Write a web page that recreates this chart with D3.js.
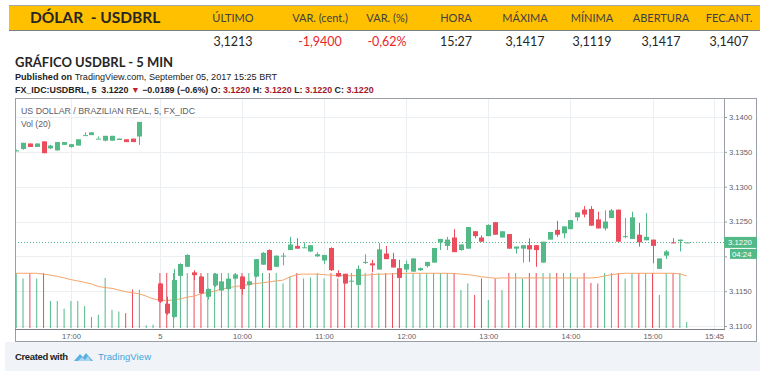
<!DOCTYPE html>
<html>
<head>
<meta charset="utf-8">
<script src="https://cdnjs.cloudflare.com/ajax/libs/d3/7.8.5/d3.min.js"></script>
<style>
  html, body { margin: 0; padding: 0; background: #fff; }
  svg { display: block; }
  .hdr { font-family: Lato, "Noto Sans", sans-serif; }
  .tv { font-family: "Liberation Sans", Arial, sans-serif; }
</style>
</head>
<body>
<script>
const width = 765;
const height = 371;

// quote table
const quoteHeads = ["ÚLTIMO", "VAR. (cent.)", "VAR. (%)", "HORA", "MÁXIMA", "MÍNIMA", "ABERTURA", "FEC.ANT."];
const quoteValues = ["3,1213", "-1,9400", "-0,62%", "15:27", "3,1417", "3,1119", "3,1417", "3,1407"];
const quoteNegative = [false, true, true, false, false, false, false, false];

// 5 min bars: previous session 16:20-18:00, then Sept 5 from 09:00
function sessionSlots(from, to) {
    const out = [];
    for (let m = from; m <= to; m += 5) {
        out.push(String(Math.floor(m / 60)).padStart(2, "0") + ":" + String(m % 60).padStart(2, "0"));
    }
    return out;
}
const slots = sessionSlots(16 * 60 + 20, 18 * 60).map(t => "d4 " + t)
    .concat(sessionSlots(9 * 60, 15 * 60 + 45).map(t => "d5 " + t));

const timeTicks = ["d4 17:00", "d5 09:00", "d5 10:00", "d5 11:00", "d5 12:00", "d5 13:00", "d5 14:00", "d5 15:00", "d5 15:45"];
const timeTickLabels = ["17:00", "5", "10:00", "11:00", "12:00", "13:00", "14:00", "15:00", "15:45"];

const priceTicks = [3.11, 3.115, 3.12, 3.125, 3.13, 3.135, 3.14];

const opens = [
    3.1352, 3.1354, 3.1362, 3.1357, 3.1365, 3.1355, 3.1352, 3.1360, 3.1357, 3.1359,
    3.1374, 3.1374, 3.1369, 3.1366, 3.1366, 3.1367, 3.1368, 3.1369, 3.1372, null,
    null, 3.1161, 3.1132, 3.1113, 3.1172, 3.1185, 3.1177, 3.1171, 3.1142, 3.1158,
    3.1151, 3.1153, 3.1168, 3.1171, 3.1159, 3.1171, 3.1188, 3.1209, 3.1185, 3.1200,
    3.1209, 3.1215, 3.1212, 3.1207, 3.1200, 3.1194, 3.1212, 3.1176, 3.1175, 3.1165,
    3.1159, 3.1192, 3.1190, 3.1181, 3.1204, 3.1196, 3.1183, 3.1181, 3.1178, 3.1180,
    3.1186, 3.1191, 3.1220, 3.1215, 3.1227, 3.1209, 3.1211, 3.1236, 3.1227, 3.1229,
    3.1249, 3.1227, 3.1232, 3.1211, 3.1211, 3.1216, 3.1216, 3.1191, 3.1224, 3.1238,
    3.1233, 3.1239, 3.1256, 3.1267, 3.1268, 3.1253, 3.1240, 3.1255, 3.1267, 3.1228,
    3.1225, 3.1231, 3.1223, 3.1224, 3.1182, 3.1201, 3.1220, 3.1222, 3.1220
];
const highs = [
    3.1353, 3.1363, 3.1362, 3.1362, 3.1365, 3.1360, 3.1364, 3.1364, 3.1361, 3.1368,
    3.1378, 3.1378, 3.1372, 3.1373, 3.1373, 3.1369, 3.1368, 3.1369, 3.1393, null,
    null, 3.1162, 3.1142, 3.1182, 3.1190, 3.1203, 3.1180, 3.1172, 3.1154, 3.1176,
    3.1165, 3.1169, 3.1176, 3.1172, 3.1165, 3.1196, 3.1206, 3.1210, 3.1201, 3.1205,
    3.1228, 3.1226, 3.1220, 3.1216, 3.1206, 3.1202, 3.1213, 3.1180, 3.1175, 3.1167,
    3.1187, 3.1203, 3.1195, 3.1219, 3.1215, 3.1205, 3.1195, 3.1194, 3.1197, 3.1184,
    3.1192, 3.1212, 3.1225, 3.1228, 3.1239, 3.1217, 3.1242, 3.1236, 3.1230, 3.1246,
    3.1249, 3.1236, 3.1232, 3.1214, 3.1216, 3.1226, 3.1216, 3.1221, 3.1235, 3.1251,
    3.1243, 3.1252, 3.1263, 3.1272, 3.1272, 3.1264, 3.1266, 3.1268, 3.1267, 3.1255,
    3.1264, 3.1248, 3.1262, 3.1224, 3.1197, 3.1209, 3.1226, 3.1224, 3.1220
];
const lows = [
    3.1351, 3.1353, 3.1357, 3.1357, 3.1348, 3.1354, 3.1352, 3.1360, 3.1356, 3.1359,
    3.1374, 3.1374, 3.1369, 3.1365, 3.1366, 3.1367, 3.1364, 3.1364, 3.1360, null,
    null, 3.1133, 3.1116, 3.1112, 3.1170, 3.1185, 3.1166, 3.1146, 3.1138, 3.1156,
    3.1149, 3.1152, 3.1167, 3.1145, 3.1158, 3.1170, 3.1188, 3.1180, 3.1185, 3.1187,
    3.1209, 3.1211, 3.1212, 3.1206, 3.1199, 3.1189, 3.1179, 3.1170, 3.1161, 3.1163,
    3.1159, 3.1189, 3.1177, 3.1181, 3.1196, 3.1184, 3.1169, 3.1177, 3.1178, 3.1179,
    3.1184, 3.1191, 3.1209, 3.1209, 3.1206, 3.1208, 3.1211, 3.1226, 3.1221, 3.1229,
    3.1231, 3.1227, 3.1211, 3.1204, 3.1191, 3.1192, 3.1185, 3.1191, 3.1224, 3.1228,
    3.1226, 3.1239, 3.1251, 3.1256, 3.1244, 3.1240, 3.1237, 3.1255, 3.1221, 3.1226,
    3.1225, 3.1214, 3.1223, 3.1190, 3.1182, 3.1196, 3.1219, 3.1207, 3.1220
];
const closes = [
    3.1352, 3.1363, 3.1357, 3.1362, 3.1348, 3.1359, 3.1364, 3.1364, 3.1361, 3.1368,
    3.1374, 3.1378, 3.1369, 3.1373, 3.1373, 3.1369, 3.1364, 3.1364, 3.1393, null,
    null, 3.1135, 3.1118, 3.1166, 3.1189, 3.1202, 3.1173, 3.1147, 3.1153, 3.1175,
    3.1164, 3.1168, 3.1174, 3.1153, 3.1164, 3.1196, 3.1205, 3.1180, 3.1201, 3.1201,
    3.1217, 3.1211, 3.1213, 3.1216, 3.1203, 3.1202, 3.1180, 3.1171, 3.1161, 3.1165,
    3.1182, 3.1192, 3.1187, 3.1210, 3.1196, 3.1184, 3.1169, 3.1189, 3.1197, 3.1183,
    3.1192, 3.1212, 3.1225, 3.1224, 3.1206, 3.1217, 3.1242, 3.1229, 3.1221, 3.1245,
    3.1231, 3.1236, 3.1211, 3.1214, 3.1216, 3.1210, 3.1209, 3.1221, 3.1235, 3.1231,
    3.1243, 3.1252, 3.1263, 3.1260, 3.1244, 3.1240, 3.1250, 3.1266, 3.1221, 3.1229,
    3.1256, 3.1220, 3.1228, 3.1215, 3.1197, 3.1207, 3.1219, 3.1224, 3.1220
];
// volume, relative to the tallest bar
const volumes = [
    100, 90, 100, 90, 100, 49, 49, 35, 49, 49,
    40, 20, 24, 91, 33, 30, 27, 70, 70, 5,
    6, 100, 100, 100, 100, 100, 100, 100, 100, 100,
    100, 100, 100, 100, 100, 100, 100, 100, 100, 81,
    93, 100, 90, 92, 100, 90, 100, 90, 90, 100,
    100, 100, 100, 100, 100, 100, 100, 100, 100, 100,
    100, 100, 100, 100, 100, 69, 81, 60, 90, 51,
    90, 69, 100, 100, 90, 100, 100, 100, 100, 100,
    100, 100, 90, 100, 82, 81, 100, 100, 100, 90,
    100, 100, 100, 100, 60, 100, 100, 100, 11
];
// Vol (20) moving average as drawn
const volAvg = [
    99.5, 99.5, 99.5, 99.5, 98, 96, 94, 91, 88, 85.5,
    83, 80, 75.5, 73.5, 72, 69, 66, 64, 62, 58,
    53, 51, 50, 51, 53, 56, 58, 62, 64.5, 67,
    71, 73, 75.5, 77, 79, 81, 82, 84, 85.5, 87,
    93, 97, 98, 98, 98, 97, 96, 95.5, 95, 95,
    95.5, 96, 97, 98, 98, 98.5, 99, 99.5, 99.5, 99.5,
    99.5, 99.5, 99.5, 99.5, 99, 98, 97, 95.5, 93, 92,
    90.5, 91, 91, 91, 91, 91, 91, 91, 91, 91,
    91, 91, 91, 91, 91, 92, 94.5, 97, 98.5, 99.5,
    99.5, 99.5, 99.5, 99.5, 99.5, 99.5, 99.5, 98.5, 94.5
];

const lastPrice = 3.1220;
const countdown = "04:24";

const green = "#53b987";
const red = "#eb4d5c";
const gridColor = "#eceff2";
const frameColor = "#9a9ea6";
const textGray = "#5d606b";

const svg = d3.select("body").append("svg")
    .attr("width", width)
    .attr("height", height);

// ---- quote header ----
svg.append("line").attr("x1", 9).attr("x2", 760).attr("y1", 5.5).attr("y2", 5.5)
    .attr("stroke", "#a6a6a6");
svg.append("rect").attr("x", 9).attr("y", 6).attr("width", 751).attr("height", 24)
    .attr("fill", "#ffc000");
svg.append("line").attr("x1", 9).attr("x2", 760).attr("y1", 30.5).attr("y2", 30.5)
    .attr("stroke", "#7f7f7f");

svg.append("text").attr("class", "hdr")
    .attr("x", 30).attr("y", 22.5)
    .attr("font-size", 15.5).attr("font-weight", 700).attr("fill", "#262626")
    .attr("xml:space", "preserve")
    .text("DÓLAR  - USDBRL");

const colX = d3.scaleOrdinal().domain(quoteHeads).range([233, 320, 387, 456, 525, 592, 661, 729]);

svg.selectAll("text.qh").data(quoteHeads).join("text")
    .attr("class", "qh hdr")
    .attr("x", d => colX(d)).attr("y", 21.5)
    .attr("text-anchor", "middle").attr("font-size", 11).attr("fill", "#404040")
    .text(d => d);

svg.selectAll("text.qv").data(quoteValues).join("text")
    .attr("class", "qv hdr")
    .attr("x", (d, i) => colX(quoteHeads[i])).attr("y", 46)
    .attr("text-anchor", "middle").attr("font-size", 12.5)
    .attr("fill", (d, i) => quoteNegative[i] ? "#e8262b" : "#262626")
    .text(d => d);

// ---- chart heading ----
svg.append("text").attr("class", "hdr")
    .attr("x", 15).attr("y", 67)
    .attr("font-size", 13).attr("font-weight", 700).attr("fill", "#262626")
    .text("GRÁFICO USDBRL - 5 MIN");

const pub = svg.append("text").attr("class", "tv")
    .attr("x", 15).attr("y", 80).attr("font-size", 9.1).attr("fill", "#222");
pub.append("tspan").attr("font-weight", 700).text("Published on ");
pub.append("tspan").text("TradingView.com, September 05, 2017 15:25 BRT");

const fx = svg.append("text").attr("class", "tv")
    .attr("x", 15).attr("y", 93).attr("font-size", 8.9).attr("fill", "#222")
    .attr("font-weight", 700).attr("xml:space", "preserve");
fx.append("tspan").text("FX_IDC:USDBRL, 5  3.1220 ");
fx.append("tspan").attr("fill", "#c0212f").text("▼");
fx.append("tspan").text(" −0.0189 (−0.6%) O: ");
fx.append("tspan").attr("fill", "#a3172a").text("3.1220");
fx.append("tspan").text(" H: ");
fx.append("tspan").attr("fill", "#a3172a").text("3.1220");
fx.append("tspan").text(" L: ");
fx.append("tspan").attr("fill", "#a3172a").text("3.1220");
fx.append("tspan").text(" C: ");
fx.append("tspan").attr("fill", "#a3172a").text("3.1220");

// ---- chart frame geometry ----
const plotL = 15, plotR = 724, axisR = 757, plotT = 98, plotB = 329, frameB = 342;

const x = d3.scalePoint().domain(slots).range([16.2, 16.2 + 6.842 * (slots.length - 1)]);
const y = d3.scaleLinear().domain([3.11, 3.14]).range([326, 117]);
const yVol = d3.scaleLinear().domain([0, 100]).range([328, 273]);

// footer background
svg.append("rect").attr("x", 5).attr("y", frameB).attr("width", 755).attr("height", height - frameB)
    .attr("fill", "#f0f3f7");

svg.append("rect").attr("x", plotL).attr("y", plotT)
    .attr("width", axisR - plotL).attr("height", frameB - plotT)
    .attr("fill", "#fff");

const plot = svg.append("g");
plot.append("clipPath").attr("id", "plotclip").append("rect")
    .attr("x", plotL).attr("y", plotT).attr("width", plotR - plotL).attr("height", plotB - plotT);

// grid
plot.selectAll("line.hg").data(priceTicks).join("line")
    .attr("class", "hg")
    .attr("x1", plotL).attr("x2", plotR)
    .attr("y1", d => Math.round(y(d)) + 0.5).attr("y2", d => Math.round(y(d)) + 0.5)
    .attr("stroke", gridColor);
plot.selectAll("line.vg").data(timeTicks).join("line")
    .attr("class", "vg")
    .attr("x1", d => Math.round(x(d)) + 0.5).attr("x2", d => Math.round(x(d)) + 0.5)
    .attr("y1", plotT).attr("y2", plotB)
    .attr("stroke", gridColor);

const bars = slots.slice(0, opens.length).map((t, i) => ({
    t, o: opens[i], h: highs[i], l: lows[i], c: closes[i], v: volumes[i], ma: volAvg[i]
}));
const barColor = d => (d.o === null || d.c >= d.o) ? green : red;

const inner = plot.append("g").attr("clip-path", "url(#plotclip)");

// volume
inner.selectAll("rect.vol").data(bars).join("rect")
    .attr("class", "vol")
    .attr("x", d => x(d.t) - 0.5).attr("width", 1)
    .attr("y", d => yVol(d.v)).attr("height", d => yVol(0) - yVol(d.v))
    .attr("fill", barColor);

inner.append("path")
    .datum(bars)
    .attr("fill", "none").attr("stroke", "#f5a56b").attr("stroke-width", 1)
    .attr("d", d3.line().x(d => x(d.t)).y(d => yVol(d.ma)));

// last price line
inner.append("line")
    .attr("x1", plotL).attr("x2", plotR)
    .attr("y1", Math.round(y(lastPrice)) + 0.5).attr("y2", Math.round(y(lastPrice)) + 0.5)
    .attr("stroke", green).attr("stroke-dasharray", "1,2");

// candles
const candles = bars.filter(d => d.o !== null);
inner.selectAll("line.wick").data(candles).join("line")
    .attr("class", "wick")
    .attr("x1", d => Math.round(x(d.t)) + 0.5).attr("x2", d => Math.round(x(d.t)) + 0.5)
    .attr("y1", d => y(d.h)).attr("y2", d => y(d.l))
    .attr("stroke", barColor);
inner.selectAll("rect.body").data(candles).join("rect")
    .attr("class", "body")
    .attr("x", d => Math.round(x(d.t)) - 2).attr("width", 5)
    .attr("y", d => y(Math.max(d.o, d.c)))
    .attr("height", d => Math.max(1, Math.abs(y(d.o) - y(d.c))))
    .attr("fill", barColor);

// pane titles
svg.append("text").attr("class", "tv")
    .attr("x", 21).attr("y", 113.5).attr("font-size", 8.8).attr("fill", textGray)
    .text("US DOLLAR / BRAZILIAN REAL, 5, FX_IDC");
svg.append("text").attr("class", "tv")
    .attr("x", 21).attr("y", 127).attr("font-size", 8.6).attr("fill", textGray)
    .text("Vol (20)");

// price axis (3.1200 sits under the countdown box, so its label is left out)
const yAxis = svg.append("g").attr("transform", `translate(${plotR},0)`)
    .call(d3.axisRight(y).tickValues(priceTicks)
        .tickFormat(d => Math.abs(d - 3.12) < 1e-9 ? "" : d3.format(".4f")(d))
        .tickSize(3).tickPadding(2));
yAxis.select(".domain").remove();
yAxis.selectAll("line").attr("stroke", frameColor);
yAxis.selectAll("text").attr("class", "tv").attr("font-size", 7.6).attr("fill", textGray);

// time axis
const xAxis = svg.append("g").attr("transform", `translate(0,${plotB})`)
    .call(d3.axisBottom(x).tickValues(timeTicks)
        .tickFormat((d, i) => timeTickLabels[i]).tickSize(0).tickPadding(5));
xAxis.select(".domain").remove();
xAxis.selectAll("text").attr("class", "tv").attr("font-size", 7.6).attr("fill", textGray);

// frame
svg.append("rect").attr("x", plotL + 0.5).attr("y", plotT + 0.5)
    .attr("width", axisR - plotL - 1).attr("height", frameB - plotT - 1)
    .attr("fill", "none").attr("stroke", frameColor);
svg.append("line").attr("x1", plotR + 0.5).attr("x2", plotR + 0.5).attr("y1", plotT).attr("y2", plotB + 1)
    .attr("stroke", frameColor);
svg.append("line").attr("x1", plotL).attr("x2", plotR + 1).attr("y1", plotB + 0.5).attr("y2", plotB + 0.5)
    .attr("stroke", "#7a7e87");

// last price label + countdown
const ly = y(lastPrice);
svg.append("rect").attr("x", plotR).attr("y", ly - 5.5).attr("width", axisR - plotR).attr("height", 11)
    .attr("fill", green);
svg.append("text").attr("class", "tv")
    .attr("x", plotR + 4).attr("y", ly + 3).attr("font-size", 7.8).attr("fill", "#fff")
    .text(d3.format(".4f")(lastPrice));
svg.append("rect").attr("x", plotR + 6).attr("y", ly + 6.5).attr("width", axisR - plotR - 6).attr("height", 10)
    .attr("fill", green);
svg.append("text").attr("class", "tv")
    .attr("x", plotR + 8).attr("y", ly + 14.5).attr("font-size", 7.8).attr("fill", "#fff")
    .text(countdown);

// footer
svg.append("text").attr("class", "tv")
    .attr("x", 15).attr("y", 359.5).attr("font-size", 9.5).attr("font-weight", 700)
    .attr("fill", "#1e1e1e").attr("textLength", 53)
    .text("Created with");
const logo = svg.append("g").attr("transform", "translate(74,351)");
logo.append("path")
    .attr("d", "M0,10 L6,3 L9,6 L12,2 L19,10 Z")
    .attr("fill", "#5ab1e0");
logo.append("path")
    .attr("d", "M4,10 L8,6 L11,9 L14,5 L17,10 Z")
    .attr("fill", "#a9d6f0");
svg.append("text").attr("class", "tv")
    .attr("x", 98).attr("y", 359.5).attr("font-size", 9.5)
    .attr("fill", "#3fa6dc").attr("textLength", 53)
    .text("TradingView");
</script>
</body>
</html>
